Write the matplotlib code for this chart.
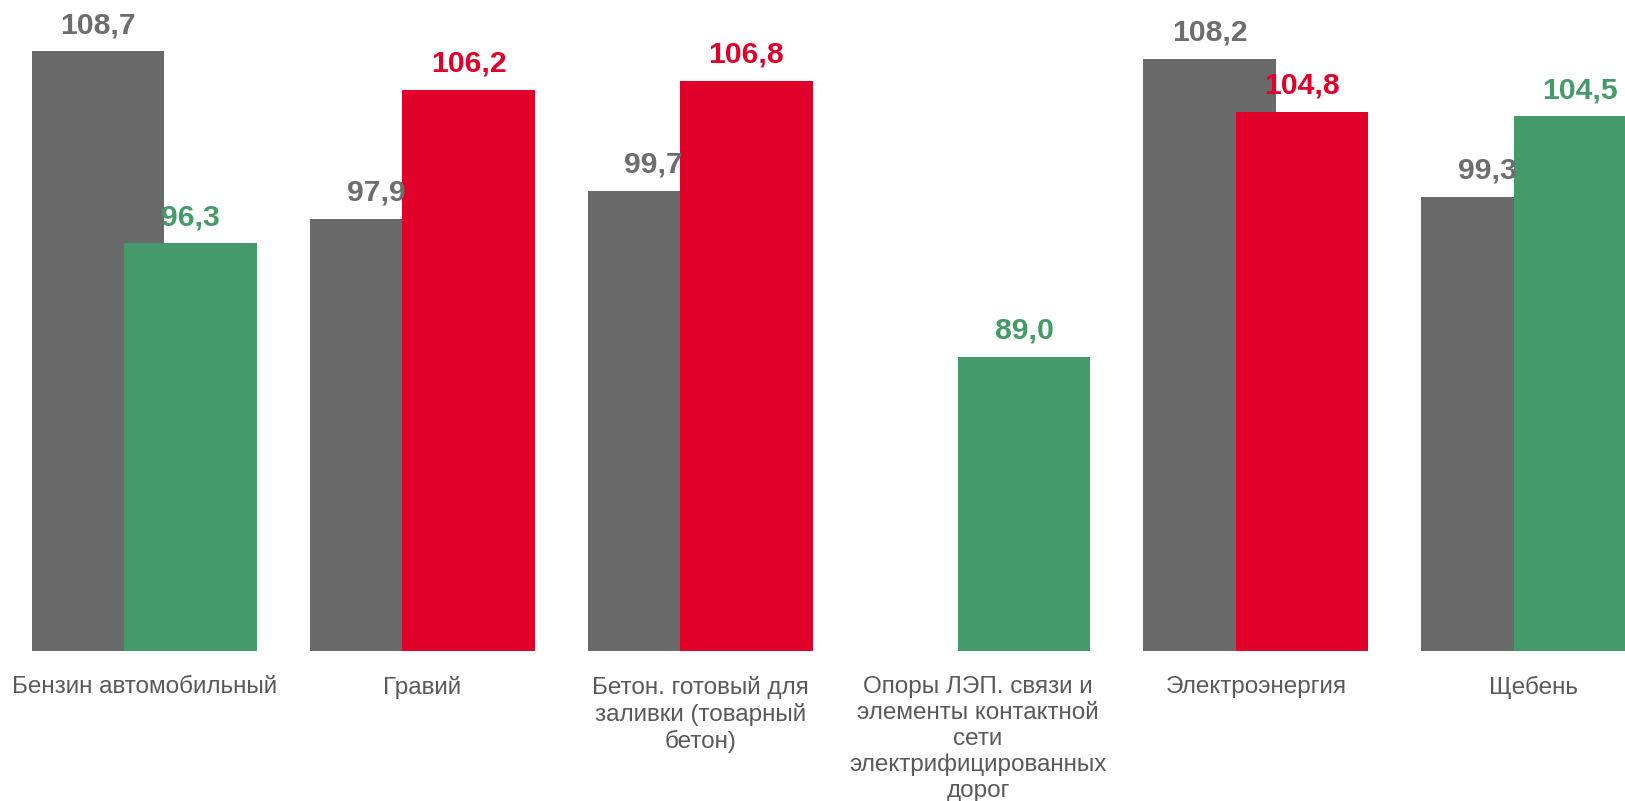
import matplotlib
matplotlib.use("Agg")
import matplotlib.pyplot as plt
import numpy as np

categories = [
    "Бензин автомобильный",
    "Гравий",
    "Бетон. готовый для\nзаливки (товарный\nбетон)",
    "Опоры ЛЭП. связи и\nэлементы контактной\nсети\nэлектрифицированных\nдорог",
    "Электроэнергия",
    "Щебень",
]
series_prev = [108.7, 97.9, 99.7, np.nan, 108.2, 99.3]
series_curr = [96.3, 106.2, 106.8, 89.0, 104.8, 104.5]
curr_colors = ["#459a69", "#e0002a", "#e0002a", "#459a69", "#e0002a", "#459a69"]
prev_color = "#6a6a6a"
label_prev_color = "#6d6d6d"
text_color = "#595959"

plt.rcParams['font.family'] = ['Liberation Sans', 'DejaVu Sans']

W, H = 1625, 801
fig = plt.figure(figsize=(W / 100, H / 100), dpi=100)
base_px = 651
ax = fig.add_axes([0, 1 - base_px / H, 1, base_px / H])
ax.set_xlim(-0.520, 5.329)
ax.set_ylim(70, 112)
ax.axis("off")

x = np.arange(len(categories))
off = 0.1665
w = 0.477

ax.bar(x - off, series_prev, width=w, color=prev_color, zorder=2)
ax.bar(x + off, series_curr, width=w, color=curr_colors, zorder=3)

for xi, v in zip(x, series_prev):
    if not np.isnan(v):
        ax.annotate(f"{v:.1f}".replace(".", ","), (xi - off, v), xytext=(0, 13),
                    textcoords="offset points", ha="center", va="baseline",
                    fontsize=21.7, fontweight="bold", color=label_prev_color)
for xi, v, c in zip(x, series_curr, curr_colors):
    ax.annotate(f"{v:.1f}".replace(".", ","), (xi + off, v), xytext=(0, 13),
                textcoords="offset points", ha="center", va="baseline",
                fontsize=21.7, fontweight="bold", color=c)

for xi, lab in zip(x, categories):
    ax.annotate(lab, (xi, 70), xytext=(0, -18), textcoords="offset points",
                ha="center", va="top", fontsize=17.5, color=text_color,
                linespacing=1.23, annotation_clip=False)

fig.savefig("out.png", dpi=100)
